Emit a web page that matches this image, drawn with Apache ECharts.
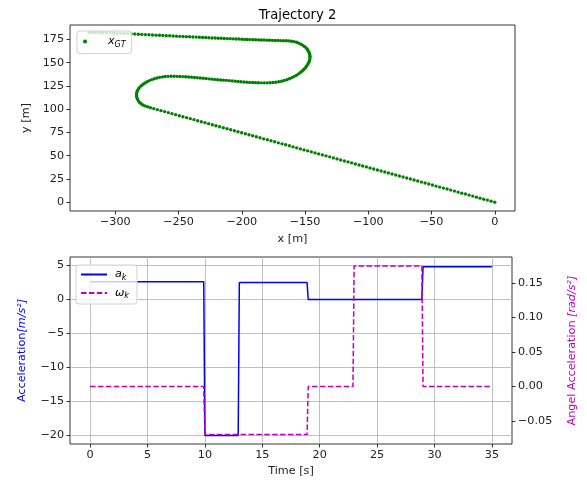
<!DOCTYPE html>
<html>
<head>
<meta charset="utf-8">
<script src="https://cdn.jsdelivr.net/npm/echarts@6/dist/echarts.min.js"></script>
<style>
html,body{margin:0;padding:0;background:#fff;}
#chart{width:587px;height:482px;}
</style>
</head>
<body>
<div id="chart"></div>
<script>
// ---- Trajectory 2 (x [m], y [m]) ----
const trajStraight = [
[0,0],[-2.9,1.1],[-5.8,2.2],[-8.7,3.2],[-11.6,4.3],[-14.5,5.4],[-17.4,6.5],[-20.3,7.6],[-23.2,8.7],[-26.1,9.7],
[-29.0,10.8],[-31.9,11.9],[-34.8,13.0],[-37.7,14.1],[-40.6,15.1],[-43.5,16.2],[-46.4,17.3],[-49.3,18.4],[-52.2,19.5],[-55.1,20.6],
[-58.0,21.6],[-60.9,22.7],[-63.8,23.8],[-66.7,24.9],[-69.6,26.0],[-72.5,27.0],[-75.4,28.1],[-78.3,29.2],[-81.2,30.3],[-84.1,31.4],
[-87.0,32.5],[-89.9,33.5],[-92.8,34.6],[-95.7,35.7],[-98.6,36.8],[-101.5,37.9],[-104.4,38.9],[-107.3,40.0],[-110.2,41.1],[-113.1,42.2],
[-116.0,43.3],[-118.9,44.3],[-121.8,45.4],[-124.7,46.5],[-127.6,47.6],[-130.5,48.7],[-133.4,49.8],[-136.3,50.8],[-139.2,51.9],[-142.1,53.0],
[-145.0,54.1],[-147.9,55.2],[-150.8,56.2],[-153.7,57.3],[-156.6,58.4],[-159.5,59.5],[-162.4,60.6],[-165.3,61.7],[-168.2,62.7],[-171.1,63.8],
[-174.0,64.9],[-176.9,66.0],[-179.8,67.1],[-182.7,68.1],[-185.6,69.2],[-188.5,70.3],[-191.4,71.4],[-194.3,72.5],[-197.2,73.6],[-200.1,74.6],
[-203.0,75.7],[-205.9,76.8],[-208.8,77.9],[-211.7,79.0],[-214.6,80.0],[-217.5,81.1],[-220.4,82.2],[-223.3,83.3],[-226.2,84.4],[-229.1,85.5],
[-232.0,86.5],[-234.9,87.6],[-237.8,88.7],[-240.7,89.8],[-243.6,90.9],[-246.5,91.9],[-249.4,93.0],[-252.3,94.1],[-255.2,95.2],[-258.1,96.3],
[-261.0,97.4],[-263.9,98.4],[-266.8,99.5],[-269.6,100.6],[-272.2,101.6],[-274.5,102.6]
];
const trajLoops = [
[-276.5,103.5],[-278.2,104.5],[-279.6,105.8],[-280.8,107.3],[-281.8,109.0],[-282.5,110.8],[-283.0,112.7],[-283.2,114.6],[-283.2,116.5],[-282.9,118.4],
[-282.4,120.2],[-281.6,122.0],[-280.6,123.7],[-279.4,125.3],[-278.0,126.8],[-276.5,128.2],[-274.8,129.5],[-273.0,130.7],[-271.1,131.8],[-269.1,132.7],
[-267.0,133.5],[-264.9,134.2],[-262.7,134.7],[-260.5,135.1],[-258.2,135.3],[-255.9,135.4],[-253.6,135.4],[-251.3,135.3],[-249.0,135.2],[-246.7,135.0],
[-244.4,134.8],[-242.1,134.6],[-239.8,134.4],[-237.5,134.1],[-235.2,133.8],[-232.9,133.5],[-230.6,133.2],[-228.3,132.9],[-226.0,132.6],[-223.7,132.3],
[-221.4,132.0],[-219.1,131.7],[-216.8,131.4],[-214.5,131.2],[-212.2,131.0],[-209.9,130.7],[-207.6,130.4],[-205.3,130.1],[-203.0,129.8],[-200.7,129.5],
[-198.4,129.2],[-196.1,129.0],[-193.8,128.8],[-191.5,128.6],[-189.2,128.5],[-186.9,128.4],[-184.6,128.3],[-182.3,128.3],[-180.0,128.3],[-177.7,128.4],
[-175.4,128.6],[-173.1,128.9],[-170.8,129.4],[-168.6,130.0],[-166.5,130.8],[-164.4,131.7],[-162.4,132.7],[-160.5,133.8],[-158.7,135.0],[-157.0,136.3],
[-155.4,137.7],[-153.9,139.2],[-152.5,140.8],[-151.2,142.4],[-150.0,144.1],[-149.0,145.8],[-148.1,147.6],[-147.3,149.4],[-146.7,151.2],[-146.3,153.1],
[-146.1,155.0],[-146.1,156.9],[-146.3,158.8],[-146.7,160.6],[-147.3,162.4],[-148.1,164.1],[-149.1,165.7],[-150.3,167.2],[-151.7,168.6],[-153.2,169.9],
[-154.9,171.0],[-156.7,171.9],[-158.6,172.6],[-160.6,173.1],[-162.7,173.4],[-164.8,173.5],[-167.0,173.6],[-169.2,173.7],[-171.4,173.8]
];
const trajTop = [
[-173.6,173.9],[-175.8,174.0],[-178.0,174.1],[-180.2,174.2],[-182.4,174.3],[-184.6,174.4],[-186.8,174.5],[-189.0,174.6],[-191.2,174.7],[-193.4,174.8],
[-195.6,174.9],[-197.8,175.0],[-200.0,175.2],[-202.3,175.4],[-204.6,175.5],[-206.9,175.6],[-209.2,175.8],[-211.5,175.9],[-213.9,176.0],[-216.3,176.2],
[-218.7,176.3],[-221.1,176.5],[-223.5,176.6],[-226.0,176.8],[-228.5,177.0],[-231.0,177.1],[-233.5,177.3],[-236.0,177.5],[-238.6,177.6],[-241.2,177.8],
[-243.8,178.0],[-246.4,178.1],[-249.0,178.3],[-251.6,178.5],[-254.3,178.7],[-257.0,178.9],[-259.7,179.0],[-262.4,179.2],[-265.1,179.4],[-267.8,179.6],
[-270.6,179.8],[-273.4,180.0],[-276.2,180.2],[-279.0,180.4],[-281.8,180.6],[-284.6,180.8],[-287.4,181.0],[-290.2,181.2],[-293.0,181.4],[-295.8,181.5],
[-298.6,181.7],[-301.4,181.9],[-304.2,182.0],[-307.0,182.1],[-309.8,182.2],[-312.6,182.3],[-315.4,182.4],[-318.2,182.5],[-320.6,182.5]
];
const trajXTicks = [-300, -250, -200, -150, -100, -50, 0];
const trajYTicks = [0, 25, 50, 75, 100, 125, 150, 175];

// ---- Acceleration / angular acceleration vs time ----
const timeA  = [0, 9.9, 10, 12.9, 13, 18.9, 19, 28.9, 29, 35];
const accelA = [2.6, 2.6, -20, -20, 2.5, 2.5, 0, 0, 4.8, 4.8];
const timeW  = [0, 9.9, 10, 18.9, 19, 22.9, 23, 28.9, 29, 35];
const omegaW = [0, 0, -0.0698, -0.0698, 0, 0, 0.1745, 0.1745, 0, 0];
const timeTicks  = [0, 5, 10, 15, 20, 25, 30, 35];
const accelTicks = [-20, -15, -10, -5, 0, 5];
const omegaTicks = [-0.05, 0, 0.05, 0.10, 0.15];

const FONT = 'DejaVu Sans';
const FS = 11.2;
const TXT = '#222';
const minus = s => String(s).replace('-', '\u2212');

const trajectory = trajStraight.concat(trajLoops, trajTop);
const accelData = timeA.map((t, i) => [t, accelA[i]]);
const omegaData = timeW.map((t, i) => [t, omegaW[i]]);

const tickStyle = {show: true, length: 3.5, lineStyle: {color: '#000', width: 0.8}};
const labelStyle = {color: TXT, fontFamily: FONT, fontSize: FS};
const noLine = {show: false, onZero: false};

function legendRich(padLeft) {
  return {
    fontFamily: FONT, fontSize: FS, color: '#000',
    rich: {
      i: {fontFamily: FONT, fontStyle: 'italic', fontSize: FS, lineHeight: 14, color: '#000', padding: [0, 0, 0, padLeft]},
      s: {fontFamily: FONT, fontStyle: 'italic', fontSize: 8, lineHeight: 9, verticalAlign: 'bottom', color: '#000'}
    }
  };
}

const chart = echarts.init(document.getElementById('chart'), null, {renderer: 'canvas'});
chart.setOption({
  animation: false,
  backgroundColor: '#fff',
  title: {
    text: 'Trajectory 2', left: 292.5, top: 4, textAlign: 'center',
    textStyle: {fontFamily: FONT, fontSize: 13.2, fontWeight: 'normal', color: '#000'}
  },
  grid: [
    {left: 70, top: 25, width: 445, height: 186, show: true, borderColor: '#000', borderWidth: 0.8, backgroundColor: 'transparent'},
    {left: 70, top: 257, width: 442, height: 187, show: true, borderColor: '#000', borderWidth: 0.8, backgroundColor: 'transparent'}
  ],
  legend: [
    {
      data: [{name: 'x_GT', icon: 'circle'}],
      left: 77, top: 31, orient: 'vertical',
      itemWidth: 20, itemHeight: 4, padding: [5, 6, 5, 6],
      backgroundColor: 'rgba(255,255,255,0.8)', borderColor: '#d0d0d0', borderWidth: 1, borderRadius: 3,
      formatter: () => '{i|x}{s|GT}',
      textStyle: legendRich(8)
    },
    {
      data: ['a_k', 'w_k'],
      left: 76, top: 265, orient: 'vertical',
      itemWidth: 26, itemHeight: 8, itemGap: 6, padding: [4, 8, 4, 4],
      itemStyle: {opacity: 0},
      backgroundColor: 'rgba(255,255,255,0.8)', borderColor: '#d0d0d0', borderWidth: 1, borderRadius: 3,
      formatter: n => n === 'a_k' ? '{i|a}{s|k}' : '{i|\u03c9}{s|k}',
      textStyle: legendRich(3)
    }
  ],
  xAxis: [
    {
      type: 'value', gridIndex: 0, min: -335.8, max: 16,
      name: 'x [m]', nameLocation: 'middle', nameGap: 23,
      nameTextStyle: {fontFamily: FONT, fontSize: FS, color: TXT},
      axisLine: noLine,
      axisTick: Object.assign({customValues: trajXTicks}, tickStyle),
      axisLabel: Object.assign({customValues: trajXTicks, margin: 6, formatter: minus}, labelStyle),
      splitLine: {show: false}
    },
    {
      type: 'value', gridIndex: 1, min: -1.75, max: 36.75,
      name: 'Time [s]', nameLocation: 'middle', nameGap: 22,
      nameTextStyle: {fontFamily: FONT, fontSize: FS, color: TXT},
      axisLine: noLine,
      axisTick: Object.assign({customValues: timeTicks}, tickStyle),
      axisLabel: Object.assign({customValues: timeTicks, margin: 6}, labelStyle),
      splitLine: {show: true, lineStyle: {color: '#b0b0b0', width: 0.8}}
    }
  ],
  yAxis: [
    {
      type: 'value', gridIndex: 0, min: -9.5, max: 190.5,
      name: 'y [m]', nameLocation: 'middle', nameGap: 37, nameRotate: 90,
      nameTextStyle: {fontFamily: FONT, fontSize: FS, color: TXT},
      axisLine: noLine,
      axisTick: Object.assign({customValues: trajYTicks}, tickStyle),
      axisLabel: Object.assign({customValues: trajYTicks, margin: 6, formatter: minus}, labelStyle),
      splitLine: {show: false}
    },
    {
      type: 'value', gridIndex: 1, position: 'left', min: -21.25, max: 6.25,
      name: '{n|Acceleration}{m|[m/s\u00b2]}', nameLocation: 'middle', nameGap: 42, nameRotate: 90,
      nameTextStyle: {fontFamily: FONT, fontSize: FS, color: '#0000ff',
        rich: {n: {fontFamily: FONT, fontSize: FS, color: '#0000ff'},
               m: {fontFamily: FONT, fontSize: FS, fontStyle: 'italic', color: '#0000ff'}}},
      axisLine: noLine,
      axisTick: Object.assign({customValues: accelTicks}, tickStyle),
      axisLabel: Object.assign({customValues: accelTicks, margin: 6, formatter: minus}, labelStyle),
      splitLine: {show: true, lineStyle: {color: '#b0b0b0', width: 0.8}}
    },
    {
      type: 'value', gridIndex: 1, position: 'right', min: -0.0834, max: 0.1876,
      name: '{n|Angel Acceleration }{m|[rad/s\u00b2]}', nameLocation: 'middle', nameGap: 55, nameRotate: 90,
      nameTextStyle: {fontFamily: FONT, fontSize: FS, color: '#bf00bf',
        rich: {n: {fontFamily: FONT, fontSize: FS, color: '#bf00bf'},
               m: {fontFamily: FONT, fontSize: FS, fontStyle: 'italic', color: '#bf00bf'}}},
      axisLine: noLine,
      axisTick: Object.assign({customValues: omegaTicks}, tickStyle),
      axisLabel: Object.assign({customValues: omegaTicks, margin: 6, formatter: v => minus(v.toFixed(2))}, labelStyle),
      splitLine: {show: false}
    }
  ],
  series: [
    {
      name: 'x_GT', type: 'scatter', xAxisIndex: 0, yAxisIndex: 0,
      data: trajectory, symbol: 'circle', symbolSize: 3.4,
      itemStyle: {color: '#008000', opacity: 1}, z: 2
    },
    {
      name: 'a_k', type: 'line', xAxisIndex: 1, yAxisIndex: 1,
      data: accelData, symbol: 'none', showSymbol: false,
      lineStyle: {color: '#0000ff', width: 1.5}, itemStyle: {color: '#0000ff'}, z: 3
    },
    {
      name: 'w_k', type: 'line', xAxisIndex: 1, yAxisIndex: 2,
      data: omegaData, symbol: 'none', showSymbol: false,
      lineStyle: {color: '#bf00bf', width: 1.5, type: [5.5, 2.4]}, itemStyle: {color: '#bf00bf'}, z: 3
    }
  ]
});
</script>
</body>
</html>
